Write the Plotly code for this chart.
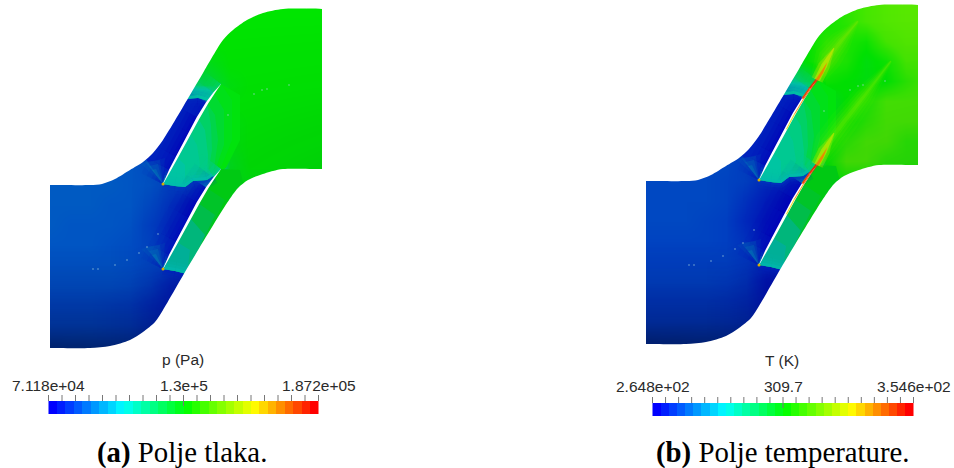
import math
import plotly.graph_objects as go

# ---------- field samples (colour-code values) ----------
grid_x = [50, 70, 90, 110, 130, 150, 170, 190, 210, 230, 250, 270, 290, 310, 330]
grid_y = [5, 25, 45, 65, 85, 105, 125, 145, 165, 185, 205, 225, 245, 265, 285, 305, 325, 345, 365]

field_p = [
    [55]*15,
    [55]*15,
    [55]*15,
    [52, 52, 52, 52, 52, 52, 52, 52, 53, 55, 55, 55, 55, 55, 55],
    [45, 45, 45, 45, 45, 45, 44, 46, 50, 54, 55, 55, 55, 55, 55],
    [12, 12, 12, 12, 12, 12, 10, 8, 10, 55, 55, 55, 55, 55, 55],
    [12, 12, 12, 12, 12, 12, 10, 6, 10, 54, 55, 55, 55, 55, 55],
    [20, 20, 20, 20, 18, 15, 10, 8, 30, 54, 55, 55, 55, 55, 55],
    [20, 20, 20, 20, 20, 18, 16, 16, 30, 53, 55, 55, 55, 55, 55],
    [21, 21, 21, 21, 20, 19, 15, 14, 12, 54, 54, 54, 54, 54, 54],
    [21, 21, 21, 20, 20, 17, 12, 8, 8, 54, 54, 54, 54, 54, 54],
    [21, 20, 20, 20, 19, 15, 10, 8, 30, 54, 54, 54, 54, 54, 54],
    [20, 20, 20, 19, 18, 16, 11, 10, 30, 54, 54, 54, 54, 54, 54],
    [19, 19, 19, 19, 18, 16, 14, 10, 30, 54, 54, 54, 54, 54, 54],
    [18, 18, 18, 18, 17, 14, 8, 6, 6, 54, 54, 54, 54, 54, 54],
    [16, 16, 16, 15, 14, 10, 6, 6, 6, 54, 54, 54, 54, 54, 54],
    [16, 16, 16, 15, 14, 10, 6, 6, 6, 54, 54, 54, 54, 54, 54],
    [16, 16, 16, 15, 14, 10, 6, 6, 6, 54, 54, 54, 54, 54, 54],
    [16, 16, 16, 15, 14, 10, 6, 6, 6, 54, 54, 54, 54, 54, 54],
]

field_t = [
    [55, 55, 55, 55, 55, 55, 55, 56, 56, 56, 58, 60, 62, 63, 63],
    [55, 55, 55, 55, 55, 55, 55, 55, 55, 56, 58, 60, 62, 63, 63],
    [54, 54, 54, 54, 54, 54, 54, 54, 55, 58, 57, 56, 60, 62, 62],
    [50, 50, 50, 50, 50, 50, 50, 50, 55, 58, 57, 54, 56, 60, 60],
    [42, 42, 42, 42, 42, 42, 40, 42, 48, 56, 55, 54, 55, 58, 60],
    [10, 10, 10, 10, 10, 10, 8, 6, 8, 52, 55, 57, 60, 60, 60],
    [10, 10, 10, 10, 10, 8, 6, 4, 8, 53, 55, 58, 60, 60, 60],
    [17, 17, 17, 17, 14, 10, 6, 6, 30, 54, 58, 60, 60, 58, 58],
    [17, 17, 17, 17, 17, 14, 10, 10, 30, 55, 60, 60, 58, 58, 58],
    [17, 17, 17, 17, 16, 15, 10, 8, 6, 55, 56, 56, 56, 56, 56],
    [17, 17, 17, 17, 16, 12, 7, 4, 4, 55, 55, 55, 55, 55, 55],
    [17, 17, 17, 16, 15, 10, 5, 4, 30, 54, 54, 54, 54, 54, 54],
    [16, 16, 16, 16, 15, 12, 6, 6, 30, 54, 54, 54, 54, 54, 54],
    [15, 15, 15, 15, 15, 13, 10, 6, 30, 54, 54, 54, 54, 54, 54],
    [15, 15, 15, 15, 14, 12, 4, 4, 4, 54, 54, 54, 54, 54, 54],
    [13, 13, 13, 13, 12, 10, 4, 4, 4, 54, 54, 54, 54, 54, 54],
    [13, 13, 13, 13, 12, 10, 4, 4, 4, 54, 54, 54, 54, 54, 54],
    [13, 13, 13, 13, 12, 10, 4, 4, 4, 54, 54, 54, 54, 54, 54],
    [13, 13, 13, 13, 12, 10, 4, 4, 4, 54, 54, 54, 54, 54, 54],
]

shade_x = [50, 130, 210, 322]
shade_y = [5, 85, 165, 185, 245, 265, 285, 305, 325, 345, 360]
shade = [
    [0, 0, 0, 0],
    [0, 0, 3, 4],
    [0, 0, 6, 10],
    [0, 0, 8, 10],
    [0, 0, 10, 10],
    [5, 5, 12, 10],
    [12, 12, 25, 10],
    [22, 22, 30, 10],
    [35, 35, 40, 10],
    [65, 60, 50, 10],
    [70, 70, 60, 10],
]

scale_stops = [(0, (0, 0, 185)), (10, (0, 40, 190)), (20, (0, 85, 195)), (30, (0, 130, 185)),
               (40, (0, 195, 170)), (45, (0, 205, 130)), (50, (0, 215, 60)), (55, (0, 230, 0)),
               (60, (70, 232, 0)), (70, (130, 235, 0)), (80, (230, 230, 0)), (90, (255, 140, 0)),
               (100, (225, 20, 0))]

# geometry of one passage picture (left panel pixels); right panel uses panel shift
wall_up_x = [0, 50, 90, 102, 115, 130, 143, 153, 163, 190, 203, 223, 233, 247, 263, 283, 322, 345]
wall_up_y = [185, 185, 185, 184, 179, 170, 162, 153, 140, 95, 73, 40, 30, 20, 13, 9, 9, 9]
wall_lo_x = [410, 345, 322, 283, 273, 260, 248, 238, 227, 185, 163, 155, 143, 130, 110, 90, 50, 0]
wall_lo_y = [169, 169, 169, 169, 171, 175, 180, 188, 203, 272, 310, 322, 332, 340, 346, 348, 348, 348]
blade_x = [163, 170, 177, 190, 198, 207, 214, 221]
blade_y = [184, 170, 157, 133, 118, 103, 93, 84]
blade_half = [0.2, 0.9, 1.2, 1.5, 1.5, 1.2, 0.8, 0.1]
pitch = 85

dots_x = [93, 98, 115, 127, 139, 147, 158, 228, 254, 262, 267, 289]
dots_y = [269, 269, 265, 260, 253, 247, 234, 115, 94, 90, 89, 85]

# colour code of the strip on the left of each blade segment
b1_left = {"p": [8, 3, 0, 0, 5, 42, 47], "t": [8, 2, 0, 0, 3, 40, 48]}
b2_left = {"p": [8, 5, 2, 0, 2, 30, 42], "t": [6, 3, 1, 0, 2, 30, 42]}

shock1_x, shock1_y = [188, 198, 208], [99, 98, 101]
shock2_x, shock2_y = [163, 175, 185, 193, 207, 213], [184, 186, 187, 181, 180, 176]
shock3_x, shock3_y = [163, 175, 187], [269, 271, 274]

# passage 1 (left of blade 1, below its shock), blue
passage_x = [163, 170, 177, 190, 198, 207, 198, 188, 170, 140, 150]
passage_y = [184, 170, 157, 133, 118, 103, 98, 99, 100, 150, 165]
passage_code = 9

# wedge behind blade 1: nested patches (code, outline)
wedge1_codes = [54, 53, 51, 49, 47, 45, 43, 41]
wedge1_x = [
    [163, 170, 177, 190, 198, 207, 214, 221, 240, 240, 226, 213, 207, 193, 185, 175],
    [163, 170, 177, 190, 198, 207, 214, 221, 232, 232, 222, 213, 207, 193, 185, 175],
    [163, 170, 177, 190, 198, 207, 214, 224, 224, 213, 207, 193, 185, 175],
    [163, 170, 177, 190, 198, 207, 215, 218, 213, 207, 193, 185, 175],
    [163, 170, 177, 190, 198, 207, 211, 212, 207, 193, 185, 175],
    [163, 170, 177, 190, 198, 205, 208, 207, 193, 185, 175],
    [163, 170, 177, 190, 197, 200, 193, 185, 175],
    [163, 170, 177, 185, 185, 175],
]
wedge1_y = [
    [184, 170, 157, 133, 118, 103, 93, 84, 95, 140, 168, 176, 180, 181, 187, 186],
    [184, 170, 157, 133, 118, 103, 93, 84, 100, 140, 165, 176, 180, 181, 187, 186],
    [184, 170, 157, 133, 118, 103, 93, 110, 145, 176, 180, 181, 187, 186],
    [184, 170, 157, 133, 118, 103, 115, 140, 176, 180, 181, 187, 186],
    [184, 170, 157, 133, 118, 103, 125, 150, 180, 181, 187, 186],
    [184, 170, 157, 133, 118, 130, 155, 180, 181, 187, 186],
    [184, 170, 157, 133, 145, 165, 181, 187, 186],
    [184, 170, 157, 165, 187, 186],
]
# wedge behind blade 2
wedge2_codes = [54, 52, 49, 45, 41]
wedge2_x = [
    [163, 170, 177, 190, 198, 207, 214, 221, 240, 245, 187, 175],
    [163, 170, 177, 190, 198, 207, 225, 187, 175],
    [163, 170, 177, 190, 198, 215, 187, 175],
    [163, 170, 177, 190, 205, 187, 175],
    [163, 170, 177, 190, 187, 175],
]
wedge2_y = [
    [269, 255, 242, 218, 203, 188, 178, 169, 170, 190, 274, 271],
    [269, 255, 242, 218, 203, 188, 200, 274, 271],
    [269, 255, 242, 218, 203, 215, 274, 271],
    [269, 255, 242, 218, 235, 274, 271],
    [269, 255, 242, 250, 274, 271],
]

wake1_x, wake1_y = [221, 232, 245, 262], [84, 62, 45, 25]
wake2_x, wake2_y = [221, 232, 247, 268, 295], [169, 147, 127, 100, 65]
tip1_x, tip1_y = [221, 228, 238], [84, 70, 52]
tip2_x, tip2_y = [221, 228, 238], [169, 155, 137]

bar_levels = list(range(32))
bar_stops = [(0, "#0000ff"), (0.27, "#00ffff"), (0.51, "#00ff00"), (0.77, "#ffff00"), (1, "#ff0000")]
panels = {
    "p": dict(shift=(0, 0), field=field_p, title="p (Pa)", ticks=["7.118e+04", "1.3e+5", "1.872e+05"],
              bar=(48.5, 318.5, 401, 414), title_at=(183, 359), label_y=385, caption="<b>(a)</b> Polje tlaka.", cap_at=(182, 452)),
    "t": dict(shift=(596, -4), field=field_t, title="T (K)", ticks=["2.648e+02", "309.7", "3.546e+02"],
              bar=(652.5, 913.5, 403, 416), title_at=(782, 360), label_y=386, caption="<b>(b)</b> Polje temperature.", cap_at=(783, 452)),
}


def rgb(code):
    for (a, ca), (b, cb) in zip(scale_stops, scale_stops[1:]):
        if code <= b:
            f = (code - a) / (b - a)
            return tuple(round(ca[i] + f * (cb[i] - ca[i])) for i in range(3))
    return scale_stops[-1][1]


def col(code, op=1.0):
    r, g, b = rgb(code)
    return f"rgba({r},{g},{b},{op})"


fig = go.Figure()
colorscale = [[s / 100, f"rgb{c}"] for s, c in scale_stops]


def poly(xs, ys, color, smooth=False):
    line = dict(width=0, shape="spline", smoothing=0.8) if smooth else dict(width=0)
    fig.add_trace(go.Scatter(x=xs, y=ys, mode="lines", fill="toself", fillcolor=color,
                             line=line, hoverinfo="skip", showlegend=False))


def normals_of(px, py, taper=None):
    out = []
    m = len(px)
    for i in range(m):
        a, b = max(i - 1, 0), min(i + 1, m - 1)
        dx, dy = px[b] - px[a], py[b] - py[a]
        n = math.hypot(dx, dy)
        t = taper[i] if taper else 1
        out.append((dy / n * t, -dx / n * t))
    return out


def strip(px, py, side, codes, widths, ops, sh, taper=None):
    """Ribbon on one side of a polyline, sharing mitred normals at the vertices."""
    nn = normals_of(px, py, taper)
    for w, op in zip(widths, ops):
        for i in range(len(px) - 1):
            c = codes[i] if isinstance(codes, list) else codes
            poly([sh[0] + v for v in (px[i], px[i + 1], px[i + 1] + side * nn[i + 1][0] * w, px[i] + side * nn[i][0] * w)],
                 [sh[1] + v for v in (py[i], py[i + 1], py[i + 1] + side * nn[i + 1][1] * w, py[i] + side * nn[i][1] * w)],
                 col(c, op))


def band(px, py, code, widths, ops, sh, taper):
    """Ribbon centred on a polyline, as one seamless outline per width."""
    nn = normals_of(px, py, taper)
    for w, op in zip(widths, ops):
        xs = [x + n[0] * w + sh[0] for x, n in zip(px, nn)] + [x - n[0] * w + sh[0] for x, n in zip(px[::-1], nn[::-1])]
        ys = [y + n[1] * w + sh[1] for y, n in zip(py, nn)] + [y - n[1] * w + sh[1] for y, n in zip(py[::-1], nn[::-1])]
        poly(xs, ys, col(code, op))


W_L, O_L = [24, 18, 13, 9, 5, 2.5], [.08, .12, .18, .25, .35, .6]
W_S, O_S = [13, 9, 6, 3], [.12, .2, .35, .8]
W_B, O_B = [8, 5, 2.5], [.12, .25, .5]
W_W, O_W = [14, 10, 7, 4, 2], [.06, .09, .12, .16, .22]

for key, P in panels.items():
    sx, sy = P["shift"]
    fig.add_trace(go.Heatmap(x=[v + sx for v in grid_x], y=[v + sy for v in grid_y], z=P["field"],
                             zmin=0, zmax=100, colorscale=colorscale, zsmooth="best",
                             showscale=False, hoverinfo="skip"))
    fig.add_trace(go.Heatmap(x=[v + sx for v in shade_x], y=[v + sy for v in shade_y], z=shade,
                             zmin=0, zmax=100, zsmooth="best", showscale=False, hoverinfo="skip",
                             colorscale=[[0, "rgba(0,20,70,0)"], [1, "rgba(0,20,70,1)"]]))

    sh = (sx, sy)
    by2 = [v + pitch for v in blade_y]
    poly([v + sx for v in passage_x], [v + sy for v in passage_y], col(passage_code))
    for c, xs, ys in zip(wedge1_codes, wedge1_x, wedge1_y):
        poly([v + sx for v in xs], [v + sy for v in ys], col(c))
    for c, xs, ys in zip(wedge2_codes, wedge2_x, wedge2_y):
        poly([v + sx for v in xs], [v + sy for v in ys], col(c))
    poly([v + sx for v in wedge2_x[0]], [v + sy for v in wedge2_y[0]], "rgba(0,20,70,.12)")

    strip(blade_x, blade_y, 1, b1_left[key], W_L, O_L, sh)
    strip(blade_x, by2, 1, b2_left[key], W_L, O_L, sh)

    # shock fronts: teal above, blue below, sharp edge on the line
    strip(shock1_x, shock1_y, -1, 10, W_B, O_B, sh)
    strip(shock1_x, shock1_y, 1, 41, W_S, O_S, sh)
    strip(shock2_x, shock2_y, -1, 13, W_B, O_B, sh)
    strip(shock2_x, shock2_y, 1, 39, W_S, O_S, sh)
    strip(shock3_x, shock3_y, -1, 8, W_B, O_B, sh)
    strip(shock3_x, shock3_y, 1, 38, W_S, O_S, sh)

    # leading-edge fans
    for base in (0, pitch):
        ax, ay = blade_x[0] + sx, blade_y[0] + base + sy
        for (x1, y1, x2, y2, op) in ((-22, -20, 2, -26, .08), (-18, -22, -3, -24, .12),
                                     (-14, -18, -5, -20, .16), (-11, -14, -7, -15, .25)):
            poly([ax, ax + x1, ax + x2], [ay, ay + y1, ay + y2], col(35, op))

    if key == "t":
        band(wake1_x, wake1_y, 72, W_W, O_W, sh, [.5, 1, .8, .1])
        band(wake2_x, wake2_y, 70, W_W, O_W, sh, [.5, 1, 1, .8, .1])
        band(tip1_x, tip1_y, 80, [6, 3], [.25, .45], sh, [1, 1, .1])
        band(tip2_x, tip2_y, 80, [6, 3], [.25, .45], sh, [1, 1, .1])

    # outside of the channel
    poly([v + sx for v in wall_up_x] + [410 + sx, 0 + sx], [v + sy for v in wall_up_y] + [-20, -20], "white", True)
    poly([v + sx for v in wall_lo_x] + [0 + sx, 410 + sx], [v + sy for v in wall_lo_y] + [360, 360], "white", True)
    poly([v + sx for v in (0, 50, 50, 0)], [v + sy for v in (170, 170, 360, 360)], "white")
    poly([v + sx for v in (322, 410, 410, 322)], [v + sy for v in (-20, -20, 180, 180)], "white")
    poly([v + sx for v in (0, 410, 410, 0)], [v + sy for v in (352, 352, 385, 385)], "white")

    # blades
    for base in (0, pitch):
        L, R = [], []
        for i in range(len(blade_x)):
            a, b = max(i - 1, 0), min(i + 1, len(blade_x) - 1)
            dx, dy = blade_x[b] - blade_x[a], blade_y[b] - blade_y[a]
            n = math.hypot(dx, dy)
            nx, ny = dy / n * blade_half[i], -dx / n * blade_half[i]
            L.append((blade_x[i] + nx + sx, blade_y[i] + ny + base + sy))
            R.append((blade_x[i] - nx + sx, blade_y[i] - ny + base + sy))
        pts = L + R[::-1]
        poly([p[0] for p in pts], [p[1] for p in pts], "white")
        if key == "t":
            strip(blade_x[3:], [v + base for v in blade_y[3:]], -1, [82, 90, 95, 98], [1.0], [.85], sh)
            strip(blade_x[5:], [v + base for v in blade_y[5:]], 1, [96, 98], [1.6], [1], sh)
            band([221, 226, 231], [84 + base, 76 + base, 66 + base], 92, [1.5], [.8], sh, [1, 1, .2])
        fig.add_trace(go.Scatter(x=[blade_x[0] + sx], y=[blade_y[0] + base + sy], mode="markers",
                                 marker=dict(size=3, color="#d8b000", line=dict(width=0)),
                                 hoverinfo="skip", showlegend=False))

    fig.add_trace(go.Scatter(x=[v + sx for v in dots_x], y=[v + sy for v in dots_y], mode="markers",
                             marker=dict(size=1.6, color="rgba(170,215,225,.7)", line=dict(width=0)),
                             hoverinfo="skip", showlegend=False))

    # colour bar
    x0, x1, y0, y1 = P["bar"]
    step = (x1 - x0) / len(bar_levels)
    fig.add_trace(go.Heatmap(x=[x0 + i * step for i in range(len(bar_levels) + 1)], y=[y0, y1], z=[bar_levels],
                             colorscale=[[a, c] for a, c in bar_stops], showscale=False, hoverinfo="skip"))
    tx, ty = [], []
    for i in range(21):
        xt = x0 + (x1 - x0) * i / 20
        tx += [xt, xt, None]
        ty += [y0 - 6, y0 + (5 if i == 10 else 0), None]
    fig.add_trace(go.Scatter(x=tx, y=ty, mode="lines", line=dict(color="#777777", width=1),
                             hoverinfo="skip", showlegend=False))
    for xa, txt in zip((x0, (x0 + x1) / 2, x1), P["ticks"]):
        fig.add_annotation(x=xa, y=P["label_y"], text=txt, showarrow=False,
                           font=dict(family="Liberation Sans", size=15.5, color="#2a2a2a"))
    fig.add_annotation(x=P["title_at"][0], y=P["title_at"][1], text=P["title"], showarrow=False,
                       font=dict(family="Liberation Sans", size=15.5, color="#2a2a2a"))
    fig.add_annotation(x=P["cap_at"][0], y=P["cap_at"][1], text=P["caption"], showarrow=False,
                       font=dict(family="Liberation Serif", size=28.8, color="black"))

fig.update_xaxes(range=[0, 954], visible=False, fixedrange=True)
fig.update_yaxes(range=[468, 0], visible=False, fixedrange=True)
fig.update_layout(width=954, height=468, margin=dict(l=0, r=0, t=0, b=0), showlegend=False,
                  plot_bgcolor="white", paper_bgcolor="white")
fig.write_html("out.html", config=dict(displayModeBar=False),
               post_script="document.body.style.margin='0';")
